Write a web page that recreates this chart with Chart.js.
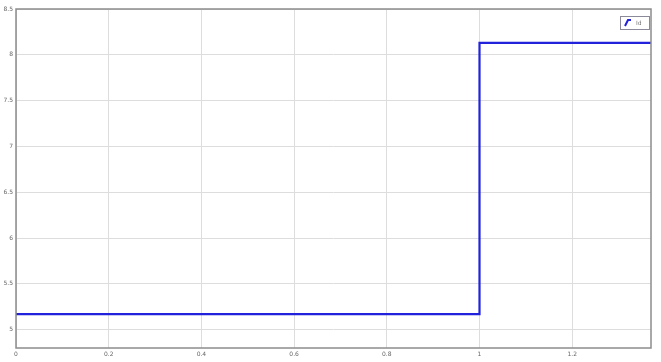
<!DOCTYPE html>
<html lang="en">
<head>
    <meta charset="UTF-8">
    <title>Step Response Scope</title>
    <script src="https://cdn.jsdelivr.net/npm/chart.js"></script>
    <style>
        body {
            margin: 0;
            background: #ffffff;
            font-family: 'DejaVu Sans', sans-serif;
        }
        #wrap {
            width: 661px;
            height: 362px;
        }
    </style>
</head>
<body>
    <div id="wrap">
        <canvas id="scopeChart" width="661" height="362"></canvas>
    </div>

    <script>
        // signal samples (time, value) - step at t = 1
        const timeValues = [0, 1, 1.37];
        const signalValues = [5.17, 8.13, 8.13];
        const signalName = 'Id';

        // axis settings
        const xRange = [0, 1.37];
        const yRange = [4.8, 8.5];
        const xStep = 0.2;
        const yStep = 0.5;

        // tick text like 1, 0.2, 7.5 (no trailing zeros)
        const shortNum = v => String(+(+v).toFixed(1));

        // small boxed legend in the top right corner of the plot
        const scopeLegend = {
            id: 'scopeLegend',
            afterDatasetsDraw(chart) {
                const ctx = chart.ctx;
                const area = chart.chartArea;
                const ds = chart.data.datasets[0];
                const w = 29, h = 13;
                const x = area.right - w - 2, y = area.top + 7;
                ctx.save();
                ctx.fillStyle = '#ffffff';
                ctx.fillRect(x, y, w, h);
                ctx.strokeStyle = '#8a8a9a';
                ctx.lineWidth = 1;
                ctx.strokeRect(x + 0.5, y + 0.5, w, h);
                ctx.strokeStyle = ds.borderColor;
                ctx.lineWidth = 2;
                ctx.beginPath();
                ctx.moveTo(x + 5, y + 10);
                ctx.lineTo(x + 8, y + 4);
                ctx.lineTo(x + 11, y + 4);
                ctx.stroke();
                ctx.fillStyle = '#777777';
                ctx.font = '6px "DejaVu Sans"';
                ctx.textBaseline = 'middle';
                ctx.fillText(ds.label, x + 16, y + 7);
                ctx.restore();
            }
        };

        // gray frame round the plot area
        const plotFrame = {
            id: 'plotFrame',
            afterDraw(chart) {
                const { ctx, chartArea: a } = chart;
                ctx.save();
                ctx.strokeStyle = '#8c8c8c';
                ctx.lineWidth = 1.5;
                ctx.strokeRect(a.left, a.top, a.right - a.left, a.bottom - a.top);
                ctx.restore();
            }
        };

        new Chart(document.getElementById('scopeChart'), {
            type: 'line',
            data: {
                datasets: [{
                    label: signalName,
                    data: timeValues.map((t, i) => ({ x: t, y: signalValues[i] })),
                    borderColor: '#2222dc',
                    borderWidth: 2.2,
                    pointRadius: 0,
                    stepped: true,
                    fill: false
                }]
            },
            options: {
                responsive: false,
                animation: false,
                layout: { padding: { top: 9, right: 10, left: 0, bottom: 0 } },
                plugins: {
                    legend: { display: false },
                    tooltip: { enabled: false }
                },
                scales: {
                    x: {
                        type: 'linear',
                        min: xRange[0],
                        max: xRange[1],
                        border: { display: false },
                        grid: { color: '#dddddd', lineWidth: 1, drawTicks: false },
                        ticks: {
                            stepSize: xStep,
                            includeBounds: false,
                            maxRotation: 0,
                            padding: 3,
                            color: '#666666',
                            font: { size: 6, family: 'DejaVu Sans' },
                            callback: shortNum
                        },
                        afterFit(scale) { scale.height = 14; }
                    },
                    y: {
                        min: yRange[0],
                        max: yRange[1],
                        border: { display: false },
                        grid: { color: '#dddddd', lineWidth: 1, drawTicks: false },
                        ticks: {
                            stepSize: yStep,
                            includeBounds: false,
                            padding: 3,
                            color: '#666666',
                            font: { size: 6, family: 'DejaVu Sans' },
                            callback: shortNum
                        },
                        afterFit(scale) { scale.width = 16; }
                    }
                }
            },
            plugins: [scopeLegend, plotFrame]
        });
    </script>
</body>
</html>
